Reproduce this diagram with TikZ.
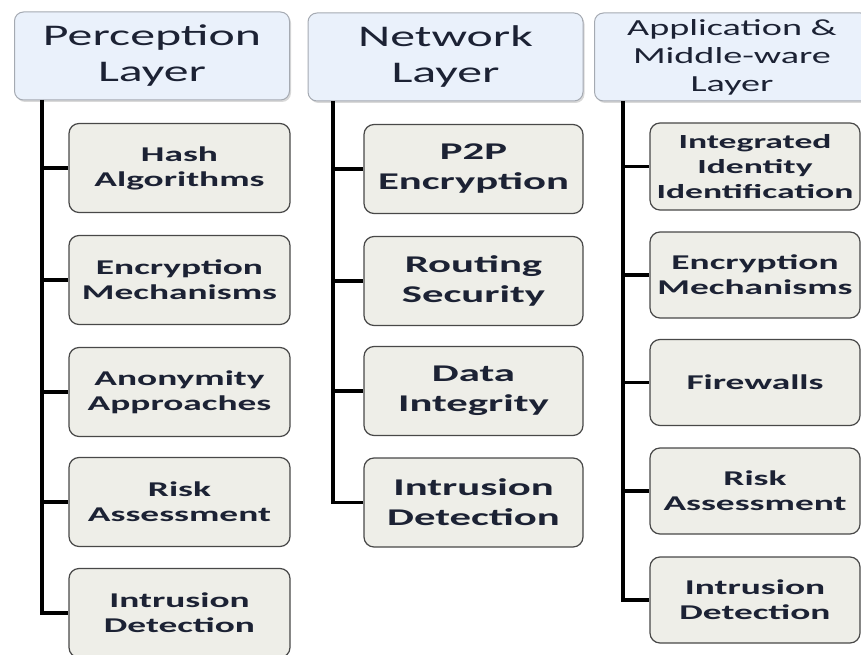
\documentclass[tikz,border=0pt]{standalone}
\usepackage{fontspec}
\setmainfont{Carlito}[FakeStretch=1.66]
\newfontfamily\itemfont{Carlito}[FakeStretch=1.78]
\usetikzlibrary{shadows}
\definecolor{hdrfill}{RGB}{234,241,251}
\definecolor{hdrdraw}{RGB}{165,170,178}
\definecolor{boxfill}{RGB}{238,238,232}
\definecolor{boxdraw}{RGB}{72,72,72}
\definecolor{txtcol}{RGB}{28,34,52}
\tikzset{
  layer/.style={draw=hdrdraw,fill=hdrfill,rounded corners=9pt,line width=1pt,
    minimum width=275pt,minimum height=88pt,inner sep=0pt,align=center,text=txtcol,
    font=\fontsize{30}{36}\selectfont,
    drop shadow={opacity=0.3,shadow xshift=1.5pt,shadow yshift=-2pt}},
  item/.style={draw=boxdraw,fill=boxfill,rounded corners=10pt,line width=1.2pt,
    minimum width=221pt,minimum height=89pt,inner sep=0pt,align=center,text=txtcol,
    font=\itemfont\bfseries\fontsize{21}{25}\selectfont},
  stem/.style={line width=3.7pt,line join=miter}
}
\begin{document}
\begin{tikzpicture}[x=1pt,y=-1pt]
  \useasboundingbox (0,0) rectangle (861,655);
  % layer headers
  \node[layer] (perc) at (152,56) {Perception\\Layer};
  \node[layer] (netw) at (445.5,57) {Network\\Layer};
  \node[layer,font=\fontsize{23}{28}\selectfont] (appl) at (732,57) {Application \&\\Middle-ware\\Layer};
  \coordinate (percStem) at (42,100);
  \coordinate (netwStem) at (333,101);
  \coordinate (applStem) at (623,101);
  % perception layer
  \node[item] (perc1) at (179.5,168) {Hash\\Algorithms};
  \node[item] (perc2) at (179.5,280) {Encryption\\Mechanisms};
  \node[item] (perc3) at (179.5,392) {Anonymity\\Approaches};
  \node[item] (perc4) at (179.5,502) {Risk\\Assessment};
  \node[item] (perc5) at (179.5,613) {Intrusion\\Detection};
  % network layer
  \node[item,minimum width=219pt,font=\itemfont\bfseries\fontsize{24}{30}\selectfont] (netw1) at (473.5,169) {P2P\\Encryption};
  \node[item,minimum width=219pt,font=\itemfont\bfseries\fontsize{24}{30}\selectfont] (netw2) at (473.5,281) {Routing\\Security};
  \node[item,minimum width=219pt,font=\itemfont\bfseries\fontsize{24}{30}\selectfont] (netw3) at (473.5,391) {Data\\Integrity};
  \node[item,minimum width=219pt,font=\itemfont\bfseries\fontsize{24}{30}\selectfont] (netw4) at (473.5,502.5) {Intrusion\\Detection};
  % application & middle-ware layer
  \node[item,minimum width=210pt,minimum height=87pt,font=\itemfont\bfseries\fontsize{20}{25}\selectfont] (appl1) at (755,166.5) {Integrated\\Identity\\Identification};
  \node[item,minimum width=210pt,minimum height=86pt] (appl2) at (755,275) {Encryption\\Mechanisms};
  \node[item,minimum width=210pt,minimum height=86pt] (appl3) at (755,382.5) {Firewalls};
  \node[item,minimum width=210pt,minimum height=86pt] (appl4) at (755,491) {Risk\\Assessment};
  \node[item,minimum width=210pt,minimum height=86pt] (appl5) at (755,600) {Intrusion\\Detection};
  % connectors
  \draw[stem] (percStem) |- (perc5.west);
  \foreach \i in {1,...,4} \draw[stem] (percStem |- perc\i.west) -- (perc\i.west);
  \draw[stem] (netwStem) |- (netw4.west);
  \foreach \i in {1,...,3} \draw[stem] (netwStem |- netw\i.west) -- (netw\i.west);
  \draw[stem] (applStem) |- (appl5.west);
  \foreach \i in {1,...,4} \draw[stem] (applStem |- appl\i.west) -- (appl\i.west);
\end{tikzpicture}
\end{document}
